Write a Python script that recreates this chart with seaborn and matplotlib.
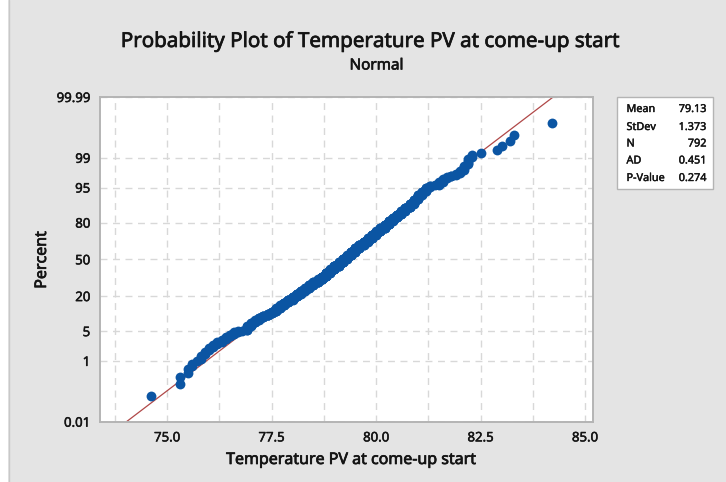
import numpy as np
import pandas as pd
import seaborn as sns
import matplotlib
matplotlib.use("Agg")
import matplotlib.pyplot as plt
import matplotlib.patheffects as pe
from matplotlib.patches import Rectangle
from matplotlib.lines import Line2D
from statistics import NormalDist

# Recorded come-up start temperatures (0.1 resolution) and how often each value occurred
temp_values = [74.6, 75.3, 75.5, 75.6, 75.7, 75.8, 75.9, 76.0, 76.1, 76.2,
               76.3, 76.4, 76.5, 76.6, 76.7, 76.8, 76.9, 77.0, 77.1, 77.2,
               77.3, 77.4, 77.5, 77.6, 77.7, 77.8, 77.9, 78.0, 78.1, 78.2,
               78.3, 78.4, 78.5, 78.6, 78.7, 78.8, 78.9, 79.0, 79.1, 79.2,
               79.3, 79.4, 79.5, 79.6, 79.7, 79.8, 79.9, 80.0, 80.1, 80.2,
               80.3, 80.4, 80.5, 80.6, 80.7, 80.8, 80.9, 81.0, 81.1, 81.2,
               81.3, 81.4, 81.5, 81.6, 81.7, 81.8, 81.9, 82.0, 82.1, 82.2,
               82.3, 82.5, 82.9, 83.0, 83.2, 83.3, 84.2]
temp_counts = [1, 2, 2, 2, 1, 3, 3, 3, 3, 3,
               3, 4, 4, 4, 2, 1, 9, 8, 7, 7,
               6, 7, 7, 12, 12, 12, 13, 15, 15, 16,
               15, 18, 18, 18, 19, 25, 24, 25, 26, 25,
               25, 25, 27, 22, 22, 22, 22, 21, 19, 19,
               19, 15, 14, 14, 13, 13, 13, 12, 8, 8,
               3, 1, 5, 5, 2, 2, 2, 3, 4, 4,
               2, 1, 1, 1, 1, 1, 1]

# Summary statistics of the sample and the fitted normal distribution
stat_names = ["Mean", "StDev", "N", "AD", "P-Value"]
stat_texts = ["79.13", "1.373", "792", "0.451", "0.274"]
fit_mean = 79.13
fit_sd = 1.373

# Axis ticks
pct_ticks = [0.01, 1, 5, 20, 50, 80, 95, 99, 99.99]
pct_labels = ["0.01", "1", "5", "20", "50", "80", "95", "99", "99.99"]
x_ticks = [75.0, 77.5, 80.0, 82.5, 85.0]
x_tick_labels = ["75.0", "77.5", "80.0", "82.5", "85.0"]

W, H = 726, 482
sns.set_theme(style="white")
plt.rcParams["font.family"] = ["Noto Sans", "DejaVu Sans"]

nd = NormalDist()
temps = np.sort(np.repeat(temp_values, temp_counts))
n = len(temps)
ranks = np.arange(1, n + 1)
# Median-rank plotting positions (Benard)
probs = (ranks - 0.3) / (n + 0.4)
zvals = np.array([nd.inv_cdf(p) for p in probs])
df = pd.DataFrame({"temp": temps, "z": zvals})

z_lo = nd.inv_cdf(0.0001)
z_hi = nd.inv_cdf(0.9999)
fit_df = pd.DataFrame({"z": [z_lo, z_hi]})
fit_df["temp"] = fit_mean + fit_sd * fit_df["z"]

bg = "#e4e4e4"
text_col = "#141414"


def heavy(w):
    # slightly thicker glyphs for a semibold look
    return [pe.withStroke(linewidth=w, foreground=text_col)]


fig = plt.figure(figsize=(W / 100, H / 100), dpi=100, facecolor=bg)


def fx(px):
    return px / W


def fy(py):
    return 1 - py / H


ax = fig.add_axes([fx(100), fy(421.7), fx(593) - fx(100), fy(97) - fy(421.7)])
ax.set_facecolor("white")

sns.lineplot(data=fit_df, x="temp", y="z", ax=ax, color="#b04848",
             linewidth=0.9, sort=False, zorder=2)
sns.scatterplot(data=df, x="temp", y="z", ax=ax, color="#0b55a3",
                s=50, linewidth=0, zorder=3)

ax.set_xlim(73.39, 85.19)
ax.set_ylim(z_lo, z_hi)

ax.set_xticks(x_ticks)
ax.set_xticklabels(x_tick_labels)
ax.set_xticks([73.75, 76.25, 78.75, 81.25, 83.75], minor=True)
ax.set_yticks([nd.inv_cdf(p / 100) for p in pct_ticks])
ax.set_yticklabels(pct_labels)

ax.grid(True, which="both", color="#d8d8d8", linestyle=(0, (5, 4)), linewidth=1.0, zorder=0)
ax.set_axisbelow(True)
ax.tick_params(axis="both", which="major", length=4, width=1, color="#a8a8a8",
               labelsize=9.5, labelcolor=text_col, pad=3, direction="out")
ax.tick_params(axis="both", which="minor", length=0)
for lab in ax.get_xticklabels() + ax.get_yticklabels():
    lab.set_path_effects(heavy(0.35))
for sp in ax.spines.values():
    sp.set_color("#b4b4b4")
    sp.set_linewidth(1.4)

ax.set_xlabel("Temperature PV at come-up start", fontsize=11.5, color=text_col)
ax.set_ylabel("Percent", fontsize=11.5, color=text_col)
ax.xaxis.label.set_path_effects(heavy(0.5))
ax.yaxis.label.set_path_effects(heavy(0.5))
ax.xaxis.set_label_coords((351 - 100) / 493, (421.7 - 460) / 324.7)
ax.xaxis.label.set_va("center")
ax.yaxis.set_label_coords((42 - 100) / 493, (421.7 - 260) / 324.7)
ax.yaxis.label.set_va("center")

fig.text(fx(370.5), fy(42), "Probability Plot of Temperature PV at come-up start",
         ha="center", va="center", fontsize=14.8, color=text_col,
         path_effects=heavy(0.5))
fig.text(fx(376.5), fy(66), "Normal", ha="center", va="center",
         fontsize=11, color=text_col, path_effects=heavy(0.45))

# Statistics box
fig.patches.append(Rectangle((fx(616.5), fy(189)), fx(713) - fx(616.5), fy(97) - fy(189),
                             transform=fig.transFigure, facecolor="white",
                             edgecolor="#b4b4b4", linewidth=1.0))
row_y = [109.5, 127.5, 144, 161, 178.5]
for name, val, yy in zip(stat_names, stat_texts, row_y):
    fig.text(fx(626.5), fy(yy), name, ha="left", va="center", fontsize=7.8,
             color=text_col, path_effects=heavy(0.3))
    fig.text(fx(706.5), fy(yy), val, ha="right", va="center", fontsize=7.8,
             color=text_col, path_effects=heavy(0.3))

# Window border
fig.patches.append(Rectangle((0, fy(H)), fx(8), 1, transform=fig.transFigure,
                             facecolor="white", edgecolor="none"))
fig.lines.append(Line2D([fx(8.5), fx(8.5)], [0, 1], transform=fig.transFigure,
                        color="#c8c8c8", linewidth=1))

fig.savefig("out.png", dpi=100, facecolor=bg)
